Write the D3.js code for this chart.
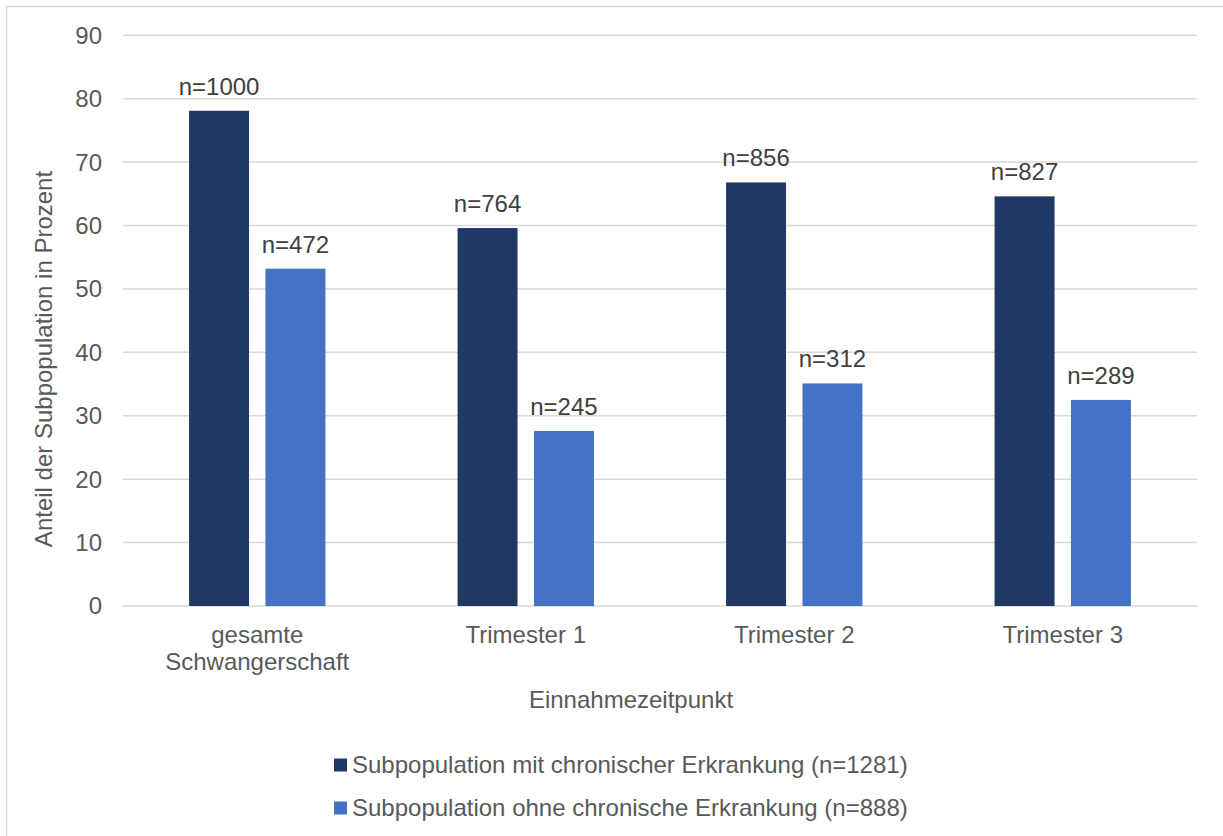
<!DOCTYPE html>
<html><head><meta charset="utf-8">
<script src="https://cdn.jsdelivr.net/npm/d3@7"></script>
<style>body{margin:0;background:#fff}svg{display:block;font-family:"Liberation Sans",Arial,sans-serif}</style>
</head><body>
<script>
const categories = [["gesamte","Schwangerschaft"],["Trimester 1"],["Trimester 2"],["Trimester 3"]];
const seriesNames = ["Subpopulation mit chronischer Erkrankung (n=1281)","Subpopulation ohne chronische Erkrankung (n=888)"];
const withChronic = [78.1, 59.6, 66.8, 64.6];
const withoutChronic = [53.2, 27.6, 35.1, 32.5];
const labelsWith = ["n=1000","n=764","n=856","n=827"];
const labelsWithout = ["n=472","n=245","n=312","n=289"];
const yTicks = [0,10,20,30,40,50,60,70,80,90];
const colors = ["#203864","#4472C4"];

const W=1223,H=836,FS=24;
const svg=d3.select("body").append("svg").attr("width",W).attr("height",H);
svg.append("rect").attr("x",6.5).attr("y",6.5).attr("width",W).attr("height",H).attr("fill","#fff").attr("stroke","#d9d9d9").attr("stroke-width",1.5);

const pLeft=123,pRight=1197,pTop=35.3,pBottom=606;
const y=d3.scaleLinear().domain([0,90]).range([pBottom,pTop]);
const catKeys=categories.map(c=>c.join(" "));
const x0=d3.scaleBand().domain(catKeys).range([pLeft,pRight]).paddingInner(0).paddingOuter(0);
const x1=d3.scaleBand().domain([0,1]).range([0,x0.bandwidth()]).paddingInner(0.215).paddingOuter(0.865);

// grid
svg.append("g").selectAll("line").data(yTicks).join("line")
  .attr("x1",pLeft).attr("x2",pRight).attr("y1",d=>y(d)).attr("y2",d=>y(d))
  .attr("stroke","#d9d9d9").attr("stroke-width",1.5);
// y tick labels
svg.append("g").selectAll("text").data(yTicks).join("text")
  .attr("x",102).attr("y",d=>y(d)).attr("dy","0.35em").attr("text-anchor","end")
  .attr("font-size",FS).attr("fill","#595959").text(d=>d);

const data=[withChronic,withoutChronic];
const labels=[labelsWith,labelsWithout];
data.forEach((vals,s)=>{
  const g=svg.append("g");
  g.selectAll("rect").data(vals).join("rect")
    .attr("x",(d,i)=>x0(catKeys[i])+x1(s)).attr("width",x1.bandwidth())
    .attr("y",d=>y(d)).attr("height",d=>y(0)-y(d)).attr("fill",colors[s]);
  g.selectAll("text").data(vals).join("text")
    .attr("x",(d,i)=>x0(catKeys[i])+x1(s)+x1.bandwidth()/2).attr("y",d=>y(d)-16)
    .attr("text-anchor","middle").attr("font-size",FS).attr("fill","#404040")
    .text((d,i)=>labels[s][i]);
});

// category labels
const cg=svg.append("g");
categories.forEach((c,i)=>{
  const t=cg.append("text").attr("x",x0(catKeys[i])+x0.bandwidth()/2).attr("y",643)
    .attr("text-anchor","middle").attr("font-size",FS).attr("fill","#595959");
  c.forEach((line,j)=>t.append("tspan").attr("x",x0(catKeys[i])+x0.bandwidth()/2).attr("dy",j?27:0).text(line));
});

// axis titles
svg.append("text").attr("x",631).attr("y",708).attr("text-anchor","middle")
  .attr("font-size",FS).attr("fill","#595959").text("Einnahmezeitpunkt");
svg.append("text").attr("transform","translate(52,359) rotate(-90)").attr("text-anchor","middle")
  .attr("font-size",FS).attr("fill","#595959").text("Anteil der Subpopulation in Prozent");

// legend
const lg=svg.append("g");
seriesNames.forEach((n,i)=>{
  const yy=765+i*43;
  lg.append("rect").attr("x",334).attr("y",yy-6.5).attr("width",13).attr("height",13).attr("fill",colors[i]);
  lg.append("text").attr("x",352).attr("y",yy).attr("dy","0.35em").attr("font-size",FS).attr("fill","#595959").text(n);
});
</script>
</body></html>
